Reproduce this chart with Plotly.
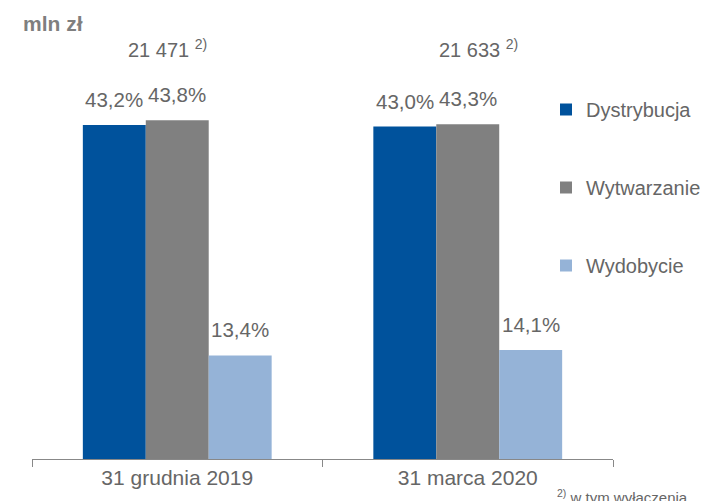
import plotly.graph_objects as go

categories = ["31 grudnia 2019", "31 marca 2020"]
series_names = ["Dystrybucja", "Wytwarzanie", "Wydobycie"]
dystrybucja = [43.2, 43.0]
wytwarzanie = [43.8, 43.3]
wydobycie = [13.4, 14.1]
totals = ["21 471", "21 633"]
colors = ["#00529C", "#808080", "#95B3D7"]

# page has an 8px body margin; figure sized to fit the 708x501 window
OFF = 8
W, H = 708 - OFF, 501 - OFF
ML, MR, MT, MB = 32 - OFF, 95, 60 - OFF, 42
PW, PH = W - ML - MR, H - MT - MB
YMAX = 51.6
TXT = "#666666"
FONT = "Liberation Sans, Arial, sans-serif"

def py(p):  # page pixel y -> paper
    return (H - MB - (p - OFF)) / PH

def px(p):  # page pixel x -> paper
    return ((p - OFF) - ML) / PW

fig = go.Figure()
values = [dystrybucja, wytwarzanie, wydobycie]
for i, (name, vals) in enumerate(zip(series_names, values)):
    fig.add_trace(go.Bar(
        x=categories, y=vals, name=name, marker_color=colors[i],
        marker_line_width=0, legendgroup=name,
    ))

bargap = 0.35
bar_w = PW / len(categories) * (1 - bargap) / 3
ann = []
for i, vals in enumerate(values):
    for c, v in zip(categories, vals):
        ann.append(dict(x=c, y=v, xref="x", yref="y", text=f"{v:.1f}%".replace(".", ","),
                        showarrow=False, yanchor="bottom", xshift=(i - 1) * bar_w, yshift=12,
                        font=dict(size=20.5, color=TXT, family=FONT)))
total_x = [126, 437]
for xs, t in zip(total_x, totals):
    ann.append(dict(x=px(xs), y=py(49), xref="paper", yref="paper", text=f"{t} <sup>2)</sup>",
                    showarrow=False, yanchor="middle", xanchor="left",
                    font=dict(size=20, color=TXT, family=FONT)))
ann.append(dict(x=px(21), y=py(23), xref="paper", yref="paper", text="<b>mln zł</b>",
                showarrow=False, xanchor="left", yanchor="middle",
                font=dict(size=21, color="#7F7F7F", family=FONT)))
ann.append(dict(x=px(555), y=py(496), xref="paper", yref="paper",
                text="<sup>2)</sup> w tym wyłączenia", showarrow=False, xanchor="left",
                yanchor="middle", font=dict(size=15, color=TXT, family=FONT)))

fig.update_layout(
    width=W, height=H, barmode="group", bargap=bargap, bargroupgap=0,
    margin=dict(l=ML, r=MR, t=MT, b=MB, autoexpand=False),
    paper_bgcolor="white", plot_bgcolor="white",
    font=dict(family=FONT, color=TXT),
    showlegend=True,
    legend=dict(x=px(546), y=py(90), xanchor="left", yanchor="top",
                font=dict(size=20, color=TXT, family=FONT), tracegroupgap=49,
                traceorder="grouped", itemwidth=30, bgcolor="rgba(0,0,0,0)"),
    annotations=ann,
)
fig.update_xaxes(showline=True, linecolor="#888888", linewidth=1, ticks="outside",
                 tickson="boundaries", ticklen=7, tickcolor="#888888",
                 tickfont=dict(size=21, color=TXT, family=FONT), showgrid=False)
fig.update_yaxes(range=[0, YMAX], visible=False, showgrid=False)

fig.write_html("out.html")
